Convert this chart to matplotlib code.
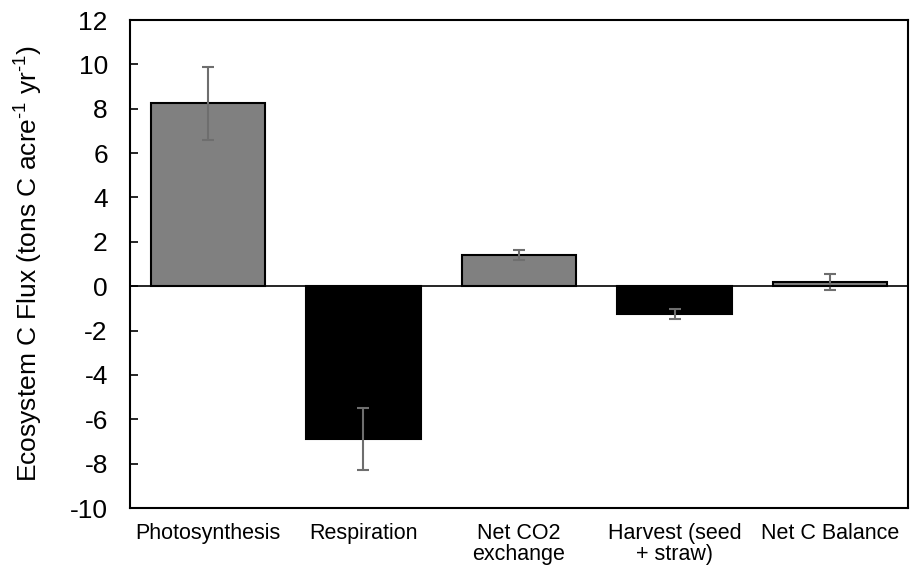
import matplotlib
matplotlib.use("Agg")
import matplotlib.pyplot as plt
import numpy as np

plt.rcParams['font.family'] = ['Liberation Sans', 'DejaVu Sans']
plt.rcParams['mathtext.fontset'] = 'custom'
plt.rcParams['mathtext.rm'] = 'Liberation Sans'

categories = ["Photosynthesis", "Respiration", "Net CO2\nexchange", "Harvest (seed\n+ straw)", "Net C Balance"]
values = [8.24, -6.87, 1.40, -1.26, 0.19]
errors = [1.65, 1.40, 0.24, 0.23, 0.37]
colors = ["#808080", "#000000", "#808080", "#000000", "#808080"]
yticks = list(range(-10, 13, 2))

fig = plt.figure(figsize=(9.18, 5.71), dpi=100)
ax = fig.add_axes([130/918, 1-508/571, 778/918, 488/571])

x = np.arange(len(categories))
ax.bar(x, values, width=0.735, color=colors, edgecolor="black", linewidth=1.5, zorder=2)
ax.errorbar(x, values, yerr=errors, fmt="none", ecolor="#6e6e6e", elinewidth=1.5,
            capsize=4, capthick=1.5, zorder=3)
ax.axhline(0, color="black", linewidth=1.2, zorder=4)

ax.set_xlim(-0.5, len(categories) - 0.5)
ax.set_ylim(-10, 12)
ax.set_yticks(yticks)
ax.set_yticklabels([str(t) for t in yticks], fontsize=19)
ax.tick_params(axis="y", direction="in", length=6, width=1.2, pad=16)
ax.set_xticks(x)
ax.set_xticklabels(categories, fontsize=15.5, linespacing=1.0)
ax.tick_params(axis="x", length=0, pad=11)
for s in ax.spines.values():
    s.set_linewidth(1.5)
ax.set_ylabel(r"Ecosystem C Flux (tons C acre$^{\text{-1}}$ yr$^{\text{-1}}$)", fontsize=19)
ax.yaxis.set_label_coords(-0.110, 0.5)

fig.savefig("out.png", dpi=100)
